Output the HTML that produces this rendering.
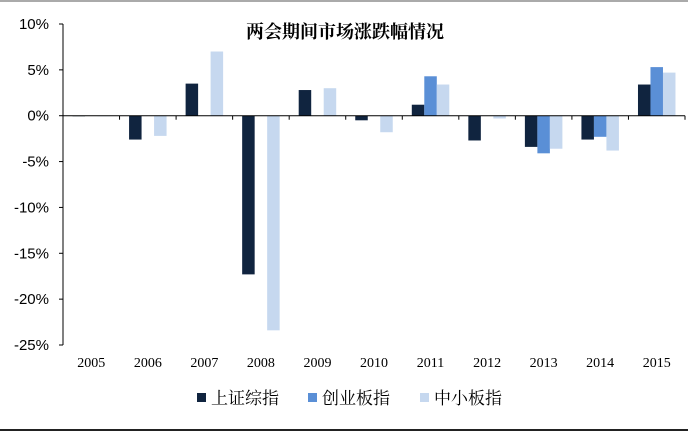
<!DOCTYPE html>
<html><head><meta charset="utf-8"><style>
body{margin:0;width:688px;height:432px;background:#fff;overflow:hidden}
svg{display:block}
</style></head><body>
<svg width="688" height="432">
<line x1="0" y1="1" x2="688" y2="1" stroke="#aaa" stroke-width="2"/>
<line x1="0" y1="430" x2="688" y2="430" stroke="#222" stroke-width="2"/>
<text x="345" y="38" text-anchor="middle" font-family="'Liberation Serif','Noto Serif CJK SC',serif" font-size="18" font-weight="bold">两会期间市场涨跌幅情况</text>
<g id="plot"></g>
<g font-family="'Liberation Serif','Noto Serif CJK SC',serif" font-size="17">
<rect x="197" y="393" width="9" height="9" fill="#10243f"/>
<text x="211" y="404">上证综指</text>
<rect x="308" y="393" width="9" height="9" fill="#5a8fd6"/>
<text x="322" y="404">创业板指</text>
<rect x="420" y="393" width="9" height="9" fill="#c6d8ef"/>
<text x="434" y="404">中小板指</text>
</g>
</svg>
<script>
const categories=["2005","2006","2007","2008","2009","2010","2011","2012","2013","2014","2015"];
const shanghai=[-0.05,-2.6,3.5,-17.3,2.8,-0.5,1.2,-2.7,-3.4,-2.6,3.4];
const chinext=[null,null,null,null,null,null,4.3,null,-4.1,-2.3,5.3];
const sme=[-0.05,-2.2,7.0,-23.4,3.0,-1.8,3.4,-0.3,-3.6,-3.8,4.7];
const yTicks=[10,5,0,-5,-10,-15,-20,-25];
const yTickLabels=["10%","5%","0%","-5%","-10%","-15%","-20%","-25%"];
const NS="http://www.w3.org/2000/svg";
const g=document.getElementById('plot');
const x0=63,x1=685,yTop=24,yBot=345,vMax=10,vMin=-25;
const y=v=>yTop+(vMax-v)/(vMax-vMin)*(yBot-yTop);
const gw=(x1-x0)/categories.length;
const xc=i=>x0+gw*(i+0.5);
function mk(t,a){const e=document.createElementNS(NS,t);for(const k in a)e.setAttribute(k,a[k]);g.appendChild(e);return e;}
let ax=mk('line',{x1:x0,y1:yTop,x2:x0,y2:yBot,stroke:'#000'});


yTicks.forEach((v,i)=>{
 let t=mk('line',{x1:x0-4,y1:y(v),x2:x0,y2:y(v),stroke:'#000'});
 
 
 let l=mk('text',{x:x0-14,y:y(v)+5,'text-anchor':'end','font-family':'Liberation Sans, sans-serif','font-size':'15'});
 l.textContent=yTickLabels[i];
 
 
});
const bw=12.5;
const series=[[shanghai,'#10243f','shanghai'],[chinext,'#5a8fd6','chinext'],[sme,'#c6d8ef','sme']];
categories.forEach((c,i)=>{
 series.forEach(([arr,col,nm],j)=>{
  const v=arr[i]; if(v==null)return;
  const bx=xc(i)+(j-1.5)*bw;
  const ya=y(Math.max(v,0)),yb=y(Math.min(v,0));
  let r=mk('rect',{x:bx,y:ya,width:bw,height:Math.max(yb-ya,0.5),fill:col});
  
  
 });
 let l=mk('text',{x:xc(i),y:367,'text-anchor':'middle','font-family':'Liberation Serif, serif','font-size':'14'});
 l.textContent=c;
 
 
});
let xa=mk('line',{x1:x0,y1:y(0),x2:x1,y2:y(0),stroke:'#000'});


for(let i=0;i<=categories.length;i++){
 let t=mk('line',{x1:x0+gw*i,y1:y(0),x2:x0+gw*i,y2:y(0)+4,stroke:'#000'});
 
 
}
</script>
</body></html>
